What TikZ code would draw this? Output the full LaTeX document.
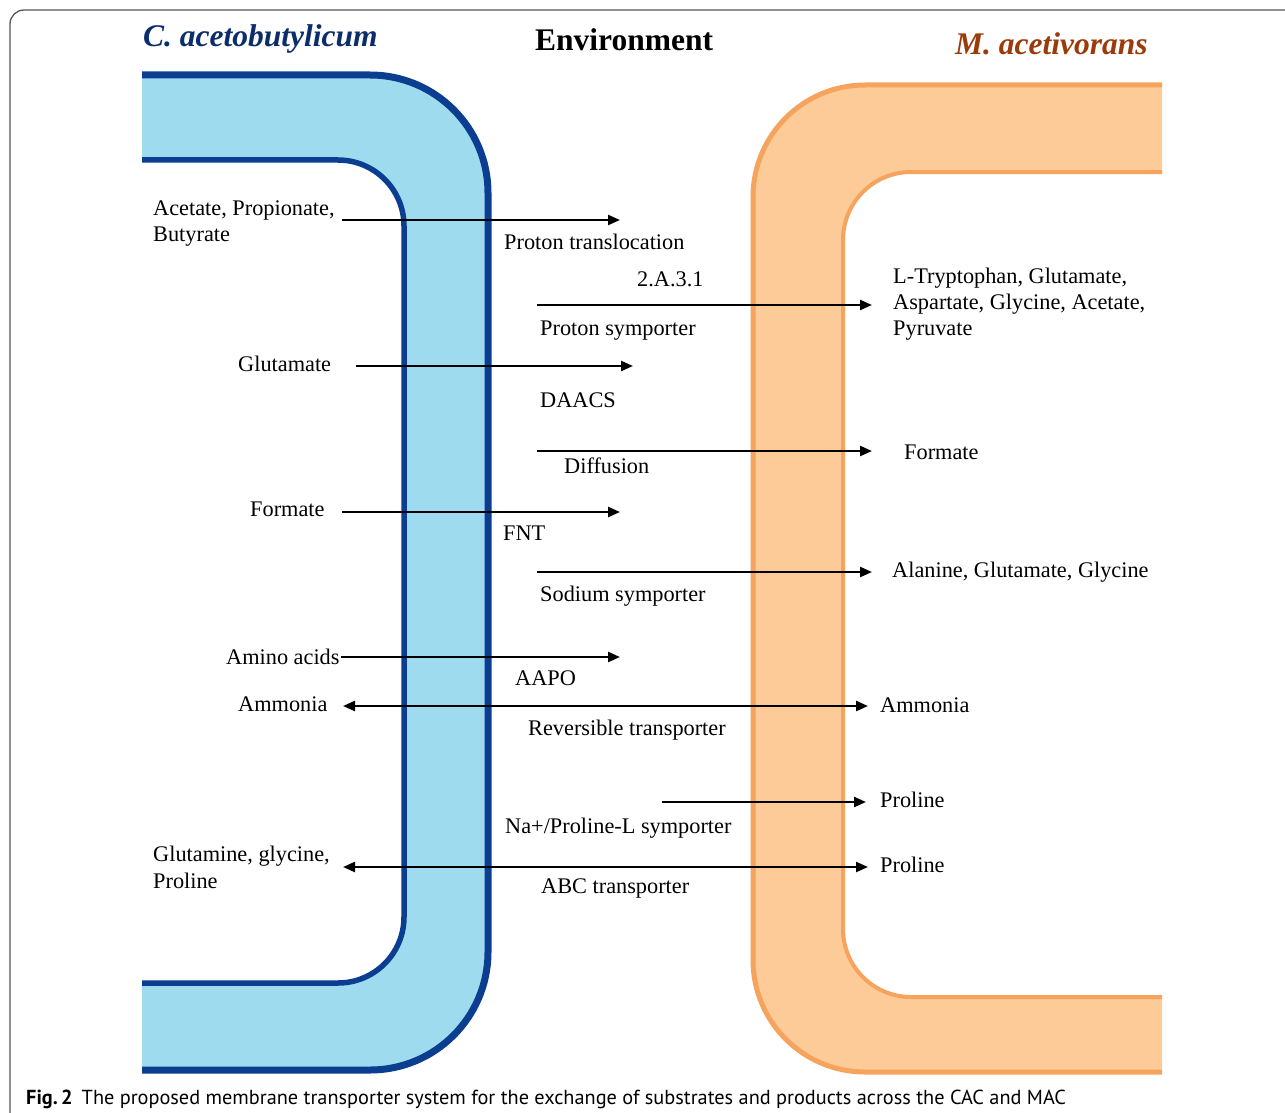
\documentclass[tikz,border=0pt]{standalone}
\usepackage{fontspec}
\setmainfont{Liberation Serif}
\newfontfamily\capfont{PT Sans}
\usetikzlibrary{arrows.meta}
\definecolor{mblue}{HTML}{0B3E91}
\definecolor{lblue}{HTML}{9FDBEE}
\definecolor{tblue}{HTML}{0C2D6B}
\definecolor{morange}{HTML}{F6A35E}
\definecolor{lorange}{HTML}{FDCB98}
\definecolor{torange}{HTML}{9C3B0A}
\definecolor{frame}{HTML}{555555}
\tikzset{
  lab/.style={anchor=base west, inner sep=0pt, font=\fontsize{22.3}{26}\selectfont},
  ttl/.style={anchor=base west, inner sep=0pt, font=\fontsize{31.5}{36}\selectfont\bfseries},
  arr/.style={line width=2.3pt, -{Triangle[length=12pt,width=10pt]}},
  darr/.style={line width=2.3pt, {Triangle[length=12pt,width=10pt]}-{Triangle[length=12pt,width=10pt]}},
}
\begin{document}
\begin{tikzpicture}[x=1pt,y=-1pt]
\useasboundingbox (0,0) rectangle (1285,1113);
\clip (0,0) rectangle (1285,1113);
\fill[white] (0,0) rectangle (1285,1113);
% frame
\draw[frame, line width=1.3pt, rounded corners=14pt] (10,1200) -- (10,10) -- (1400,10);
% blue membrane
\fill[lblue] (142,75) [rounded corners=118pt] -- (488,75) -- (488,1070) [sharp corners] -- (142,1070) -- (142,983) [rounded corners=66pt] -- (404,983) -- (404,160) [sharp corners] -- (142,160) -- cycle;
\draw[mblue, line width=7pt, rounded corners=118pt] (142,75) -- (488,75) -- (488,1070) -- (142,1070);
\draw[mblue, line width=5.5pt, rounded corners=66pt] (142,160) -- (404,160) -- (404,983) -- (142,983);
% orange membrane
\fill[lorange] (1162,85) [rounded corners=112pt] -- (753,85) -- (753,1072) [sharp corners] -- (1162,1072) -- (1162,997) [rounded corners=68pt] -- (843,997) -- (843,172) [sharp corners] -- (1162,172) -- cycle;
\draw[morange, line width=5pt, rounded corners=112pt] (1162,85) -- (753,85) -- (753,1072) -- (1162,1072);
\draw[morange, line width=4pt, rounded corners=68pt] (1162,172) -- (843,172) -- (843,997) -- (1162,997);
% titles
\node[ttl, font=\fontsize{31.5}{36}\selectfont\bfseries\itshape, text=tblue] (tC) at (143,47) {C. acetobutylicum};
\node[ttl] (tE) at (535,51) {Environment};
\node[ttl, font=\fontsize{31.5}{36}\selectfont\bfseries\itshape, text=torange] (tM) at (955,55) {M. acetivorans};
% left labels
\node[lab] (l1) at (153,215) {Acetate, Propionate,};
\node[lab] (l1b) at (153,241) {Butyrate};
\node[lab] (l2) at (238,371) {Glutamate};
\node[lab] (l3) at (250,516) {Formate};
\node[lab] (l4) at (226,664) {Amino acids};
\node[lab] (l5) at (238,711) {Ammonia};
\node[lab] (l6) at (153,861) {Glutamine, glycine,};
\node[lab] (l6b) at (153,888) {Proline};
% transporter labels
\node[lab] (m1) at (504,249) {Proton translocation};
\node[lab] (m2a) at (637,286) {2.A.3.1};
\node[lab] (m2) at (540,335) {Proton symporter};
\node[lab] (m3) at (540,407) {DAACS};
\node[lab] (m4) at (564,473) {Diffusion};
\node[lab] (m5) at (503,540) {FNT};
\node[lab] (m6) at (540,601) {Sodium symporter};
\node[lab] (m7) at (515,685) {AAPO};
\node[lab] (m8) at (528,735) {Reversible transporter};
\node[lab] (m9) at (505,833) {Na+/Proline-L symporter};
\node[lab] (m10) at (541,893) {ABC transporter};
% right labels
\node[lab] (r1) at (893,283) {L-Tryptophan, Glutamate,};
\node[lab] (r1b) at (893,309) {Aspartate, Glycine, Acetate,};
\node[lab] (r1c) at (893,335) {Pyruvate};
\node[lab] (r2) at (904,459) {Formate};
\node[lab] (r3) at (892,577) {Alanine, Glutamate, Glycine};
\node[lab] (r4) at (880,712) {Ammonia};
\node[lab] (r5) at (880,807) {Proline};
\node[lab] (r6) at (880,872) {Proline};
% arrow end points
\coordinate (a1s) at (342,220); \coordinate (a1e) at (620,220);
\coordinate (a2s) at (537,305); \coordinate (a2e) at (872,305);
\coordinate (a3s) at (356,366); \coordinate (a3e) at (633,366);
\coordinate (a4s) at (537,451); \coordinate (a4e) at (872,451);
\coordinate (a5s) at (342,512); \coordinate (a5e) at (620,512);
\coordinate (a6s) at (537,572); \coordinate (a6e) at (872,572);
\coordinate (a7s) at (341,657); \coordinate (a7e) at (620,657);
\coordinate (a8s) at (343,706); \coordinate (a8e) at (868,706);
\coordinate (a9s) at (662,802); \coordinate (a9e) at (866,802);
\coordinate (a10s) at (343,867); \coordinate (a10e) at (868,867);
\draw[arr] (a1s) -- (a1e);
\draw[arr] (a2s) -- (a2e);
\draw[arr] (a3s) -- (a3e);
\draw[arr] (a4s) -- (a4e);
\draw[arr] (a5s) -- (a5e);
\draw[arr] (a6s) -- (a6e);
\draw[arr] (a7s) -- (a7e);
\draw[darr] (a8s) -- (a8e);
\draw[arr] (a9s) -- (a9e);
\draw[darr] (a10s) -- (a10e);
% caption
\node[anchor=base west, inner sep=0pt, font=\capfont\fontsize{20.3}{24}\selectfont] (cap) at (26,1104) {\textbf{Fig.\,2}\hspace{9pt}The proposed membrane transporter system for the exchange of substrates and products across the CAC and MAC};
\end{tikzpicture}
\end{document}
